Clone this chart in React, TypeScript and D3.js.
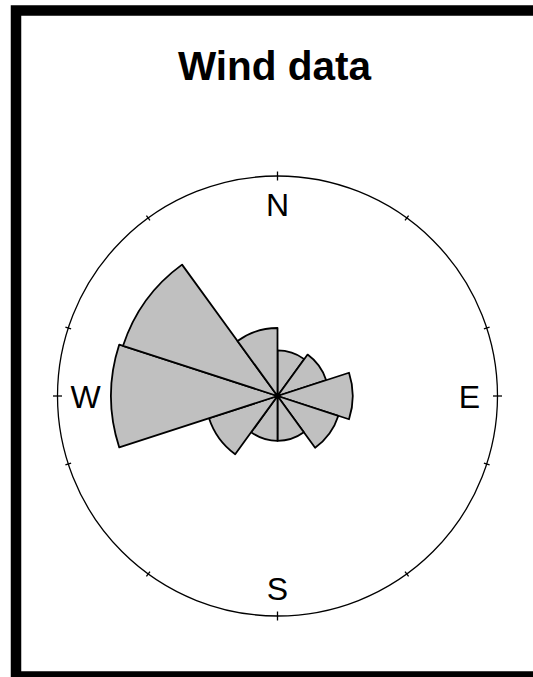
import React from "react";
import * as d3 from "d3";

const directions = ["0-36", "36-72", "72-108", "108-144", "144-180", "180-216", "216-252", "252-288", "288-324", "324-360"];
const startAngles = [0, 36, 72, 108, 144, 180, 216, 252, 288, 324];
const frequencies = [5.7, 6.4, 9.4, 8.0, 5.6, 5.6, 9.0, 20.8, 20.3, 8.5];
const tickAngles = [0, 36, 72, 90, 108, 144, 180, 216, 252, 270, 288, 324];
const cardinalLabels = ["N", "E", "S", "W"];
const cardinalAngles = [0, 90, 180, 270];
const title = "Wind data";

const W = 533;
const H = 677;
const cx = 277.5;
const cy = 396;
const R = 220;
const sectorWidth = 36;

export default function App() {
  const r = d3.scaleLinear().domain([0, 27.5]).range([0, R]);
  const rad = (deg: number) => (deg * Math.PI) / 180;
  const arc = d3.arc<any>();

  const sectors = frequencies.map((f, i) => ({
    dir: directions[i],
    path: arc({
      innerRadius: 0,
      outerRadius: r(f),
      startAngle: rad(startAngles[i]),
      endAngle: rad(startAngles[i] + sectorWidth),
    }) as string,
  }));

  const pt = (deg: number, rr: number) => [
    cx + rr * Math.sin(rad(deg)),
    cy - rr * Math.cos(rad(deg)),
  ];

  const labelR = 192;

  return (
    <svg
      width={W}
      height={H}
      style={{ position: "absolute", left: 0, top: 0, background: "#fff" }}
      fontFamily="'Liberation Sans', Arial, sans-serif"
    >
      <rect x={0} y={0} width={W} height={H} fill="#fff" />
      <rect x={16} y={10.5} width={560} height={666} fill="none" stroke="#000" strokeWidth={10.5} />
      <text x={274.5} y={80} textAnchor="middle" fontWeight="bold" fontSize={40.5} fill="#000">
        {title}
      </text>
      <circle cx={cx} cy={cy} r={R} fill="none" stroke="#000" strokeWidth={1.3} />
      {tickAngles.map((a) => {
        const big = a % 90 === 0;
        const [x1, y1] = pt(a, R - (big ? 4.5 : 3));
        const [x2, y2] = pt(a, R + (big ? 4.5 : 3));
        return <line key={a} x1={x1} y1={y1} x2={x2} y2={y2} stroke="#000" strokeWidth={1.3} />;
      })}
      {cardinalLabels.map((l, i) => {
        const [x, y] = pt(cardinalAngles[i], labelR);
        return (
          <text key={l} x={x} y={y} dy="0.36em" textAnchor="middle" fontSize={32} fill="#000">
            {l}
          </text>
        );
      })}
      <g transform={`translate(${cx},${cy})`}>
        {sectors.map((s) => (
          <path key={s.dir} d={s.path} fill="#c0c0c0" stroke="#000" strokeWidth={1.8} strokeLinejoin="round" />
        ))}
        <circle r={3.2} fill="#000" />
      </g>
    </svg>
  );
}
